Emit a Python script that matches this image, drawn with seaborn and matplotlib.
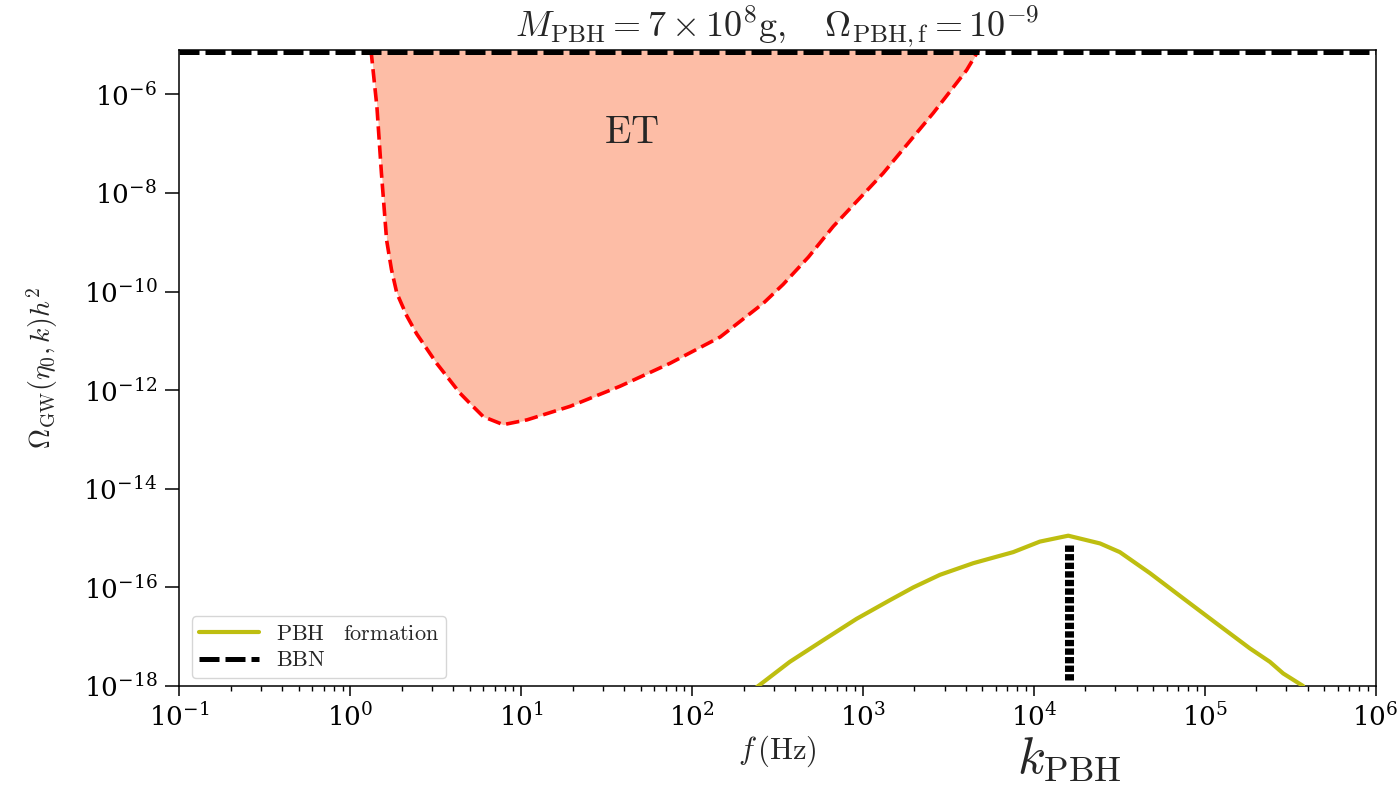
import numpy as np
import pandas as pd
import matplotlib
matplotlib.use("Agg")
import matplotlib.pyplot as plt
from matplotlib.ticker import FixedLocator, NullLocator, NullFormatter
import seaborn as sns


# ===============================
# DATA
# ===============================

# ET sensitivity curve
et_f = [1.32, 1.43, 1.52, 1.63, 1.74, 1.87, 2.14, 2.44, 3.20, 4.38, 5.01, 6.00,
        7.85, 10.8, 19.3, 37.8, 74.1, 146, 261, 341, 479, 670, 1310, 2580, 4040, 4750]
et_omega = [7.9e-6, 5.6e-7, 2.5e-8, 1.1e-9, 2.8e-10, 9.3e-11, 3.2e-11, 1.4e-11,
            3.5e-12, 8.7e-13, 5.4e-13, 2.9e-13, 2.0e-13, 2.5e-13, 4.7e-13, 1.2e-12,
            3.5e-12, 1.2e-11, 5.8e-11, 1.4e-10, 5.0e-10, 2.1e-9, 2.5e-8, 4.2e-7,
            3.1e-6, 7.9e-6]

# GW spectrum from PBH formation
pbh_f = [224, 373, 585, 916, 1435, 1968, 2818, 4416, 7568, 10840, 15890, 24380,
         31840, 47750, 74820, 117200, 183700, 240400, 287700, 376700]
pbh_omega = [8.0e-19, 3.1e-18, 8.5e-18, 2.3e-17, 5.5e-17, 1.0e-16, 1.8e-16, 3.1e-16,
             5.2e-16, 8.5e-16, 1.12e-15, 7.8e-16, 5.2e-16, 1.95e-16, 6.0e-17,
             1.86e-17, 5.8e-18, 3.1e-18, 1.8e-18, 1.0e-18]

# BBN bound and k_PBH marker
bbn_omega = 7.1e-6
k_pbh = 1.61e4
k_pbh_omega = [1.3e-18, 7.2e-16]

xlim = (1e-1, 1e6)
ylim = (1e-18, 7.9e-6)
xticks = [1e-1, 1e0, 1e1, 1e2, 1e3, 1e4, 1e5, 1e6]
yticks = [1e-18, 1e-16, 1e-14, 1e-12, 1e-10, 1e-8, 1e-6]

et_df = pd.DataFrame({"f": et_f, "omega": et_omega})
pbh_df = pd.DataFrame({"f": pbh_f, "omega": pbh_omega})


# ===============================
# STYLE
# ===============================

sns.set_theme(style="ticks")
plt.rcParams["font.family"] = ["DejaVu Serif"]
plt.rcParams["mathtext.fontset"] = "cm"
plt.rcParams["axes.edgecolor"] = "black"
plt.rcParams["axes.linewidth"] = 1.1


# ===============================
# PLOT
# ===============================

fig = plt.figure(figsize=(13.99, 7.89), dpi=100)
ax = fig.add_axes([0.1283, 0.1305, 0.855, 0.806])

ax.fill_between(et_df["f"], et_df["omega"], ylim[1], color="#fdbda6", lw=0, zorder=1)
sns.lineplot(data=et_df, x="f", y="omega", ax=ax, color="#ff0000", lw=2.6,
             linestyle="--", estimator=None, sort=False, zorder=2)

sns.lineplot(data=pbh_df, x="f", y="omega", ax=ax, color="#bebe10", lw=3,
             estimator=None, label=r"$\mathrm{PBH\quad formation}$", zorder=3)

ax.axhline(bbn_omega, color="black", lw=3.6, dashes=(4, 1.2),
           label=r"$\mathrm{BBN}$", zorder=4)

ax.plot([k_pbh, k_pbh], k_pbh_omega, color="black", lw=6.5,
        linestyle=(0, (0.7, 0.25)), dash_capstyle="butt", zorder=4)

ax.set(xscale="log", yscale="log", xlim=xlim, ylim=ylim)
ax.xaxis.set_major_locator(FixedLocator(xticks))
ax.xaxis.set_minor_locator(FixedLocator(
    [m * t for t in xticks[:-1] for m in range(2, 10)]))
ax.xaxis.set_minor_formatter(NullFormatter())
ax.set_yticks(yticks)
ax.yaxis.set_minor_locator(NullLocator())

ax.tick_params(axis="both", which="both", direction="out", colors="black", labelsize=19)
ax.tick_params(axis="x", which="major", length=7, width=1.1, pad=5)
ax.tick_params(axis="x", which="minor", length=3.6, width=1.0)
ax.tick_params(axis="y", which="major", length=10, width=1.1, pad=6)

for s in ax.spines.values():
    s.set_visible(True)
    s.set_color("black")

ax.set_xlabel(r"$f\,(\mathrm{Hz})$", fontsize=22)
ax.set_ylabel(r"$\Omega_{\mathrm{GW}}(\eta_0,k)h^2$", fontsize=20)
ax.xaxis.set_label_coords(0.5, -0.075)
ax.yaxis.set_label_coords(-0.10, 0.5)

ax.set_title(r"$M_{\mathrm{PBH}}=7\times10^8\mathrm{g},\quad\Omega_{\mathrm{PBH,f}}=10^{-9}$",
             fontsize=26, pad=8)

ax.text(44.5, 1.7e-7, r"$\mathrm{ET}$", fontsize=28, ha="center", va="center")

ax.text(k_pbh, -0.116, r"$k_{\mathrm{PBH}}$", fontsize=37, ha="center", va="center",
        transform=ax.get_xaxis_transform())

leg = ax.legend(loc="lower left", bbox_to_anchor=(0.0105, 0.0126), borderaxespad=0,
                fontsize=16, handlelength=2.7, labelspacing=0.2, borderpad=0.3,
                frameon=True, fancybox=True, edgecolor="0.8", framealpha=0.8)

fig.savefig("out.png", dpi=100)
